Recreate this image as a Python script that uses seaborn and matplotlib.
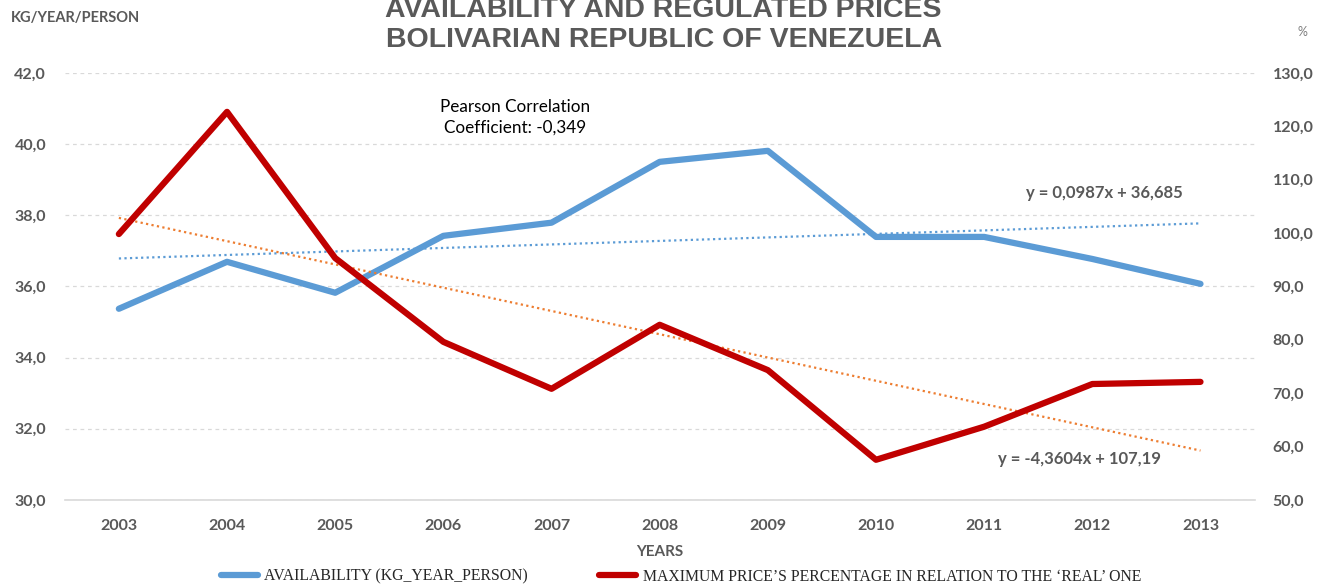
import numpy as np
import pandas as pd
import matplotlib
matplotlib.use("Agg")
import matplotlib.pyplot as plt
from matplotlib.ticker import FuncFormatter, MultipleLocator
import seaborn as sns

years = [2003, 2004, 2005, 2006, 2007, 2008, 2009, 2010, 2011, 2012, 2013]
availability = [35.37, 36.69, 35.82, 37.42, 37.79, 39.50, 39.81, 37.39, 37.39, 36.77, 36.07]
max_price_pct = [99.8, 122.7, 95.3, 79.6, 70.8, 82.8, 74.3, 57.5, 63.7, 71.7, 72.1]

# trendline coefficients as printed on the chart (x = 1..11)
trend_avail = (0.0987, 36.685)
trend_price = (-4.3604, 107.19)

df = pd.DataFrame({"year": years, "avail": availability, "price": max_price_pct})
df["idx"] = np.arange(1, len(years) + 1)
df["trend_avail"] = trend_avail[0] * df["idx"] + trend_avail[1]
df["trend_price"] = trend_price[0] * df["idx"] + trend_price[1]

sns.set_style("white")
plt.rcParams["font.family"] = ["Lato", "DejaVu Sans"]

BLUE = "#5B9BD5"
RED = "#C00000"
ORANGE = "#ED7D31"
GREY = "#595959"

fig = plt.figure(figsize=(13.22, 5.88), dpi=100)
ax = fig.add_axes([0.049, 0.150, 0.900, 0.726])
ax2 = ax.twinx()

sns.lineplot(data=df, x="year", y="trend_avail", ax=ax, color=BLUE, lw=1.6,
             linestyle=(0, (1, 1.5)), legend=False)
sns.lineplot(data=df, x="year", y="avail", ax=ax, color=BLUE, lw=4.5,
             solid_capstyle="round", legend=False, label="AVAILABILITY (KG_YEAR_PERSON)")
sns.lineplot(data=df, x="year", y="trend_price", ax=ax2, color=ORANGE, lw=1.6,
             linestyle=(0, (1, 1.5)), legend=False)
sns.lineplot(data=df, x="year", y="price", ax=ax2, color=RED, lw=4.5,
             solid_capstyle="round", legend=False,
             label="MAXIMUM PRICE\u2019S PERCENTAGE IN RELATION TO THE \u2018REAL\u2019 ONE")

ax.set_xlim(2002.5, 2013.5)
ax.set_ylim(30, 42)
ax2.set_ylim(50, 130)
ax.yaxis.set_major_locator(MultipleLocator(2))
ax2.yaxis.set_major_locator(MultipleLocator(10))
ax.set_xticks(years)

comma = FuncFormatter(lambda v, p: f"{v:.1f}".replace(".", ","))
ax.yaxis.set_major_formatter(comma)
ax2.yaxis.set_major_formatter(comma)

for a in (ax, ax2):
    for s in a.spines.values():
        s.set_visible(False)
    a.set_xlabel("")
    a.set_ylabel("")
    a.tick_params(length=0, labelsize=11.5, labelcolor=GREY)
ax.tick_params(axis="y", pad=13.5)
ax.tick_params(axis="x", pad=14)
ax2.tick_params(axis="y", pad=13)
for lbl in ax.get_xticklabels() + ax.get_yticklabels() + ax2.get_yticklabels():
    lbl.set_fontweight("bold")

ax.yaxis.grid(True, color="#D9D9D9", linestyle=(0, (3, 3)), lw=0.9)
ax.set_axisbelow(True)
ax.spines["bottom"].set_visible(True)
ax.spines["bottom"].set_color("#D9D9D9")
ax.spines["bottom"].set_linewidth(1.2)

# title and axis captions
fig.text(0.502, 0.957, "AVAILABILITY AND REGULATED PRICES\nBOLIVARIAN REPUBLIC OF VENEZUELA",
         ha="center", va="center", fontsize=20.5, fontweight="bold", color=GREY,
         family=["Liberation Sans Narrow", "Liberation Sans"], linespacing=1.18)
fig.text(0.008, 0.969, "KG/YEAR/PERSON", ha="left", va="center", fontsize=10.5,
         fontweight="bold", color=GREY)
fig.text(0.985, 0.946, "%", ha="center", va="center", fontsize=9, color="#7F7F7F")
fig.text(0.499, 0.061, "YEARS", ha="center", va="center", fontsize=11,
         fontweight="bold", color=GREY)

ax.text(2006.66, 40.75, "Pearson Correlation\nCoefficient: -0,349", ha="center", va="center",
        fontsize=12.3, color="black", linespacing=1.3)
ax.text(2012.11, 38.63, "y = 0,0987x + 36,685", ha="center", va="center",
        fontsize=12, fontweight="bold", color=GREY)
ax.text(2011.88, 31.15, "y = -4,3604x + 107,19", ha="center", va="center",
        fontsize=12, fontweight="bold", color=GREY)

handles = [ax.get_lines()[1], ax2.get_lines()[1]]
labels = [h.get_label() for h in handles]
fig.legend(handles, labels, loc="center", bbox_to_anchor=(0.515, 0.019), ncol=2,
           frameon=False, handlelength=2.4, handletextpad=0.4, columnspacing=4.5,
           prop={"family": "Liberation Serif", "size": 11.3})

fig.savefig("out.png", dpi=100)
